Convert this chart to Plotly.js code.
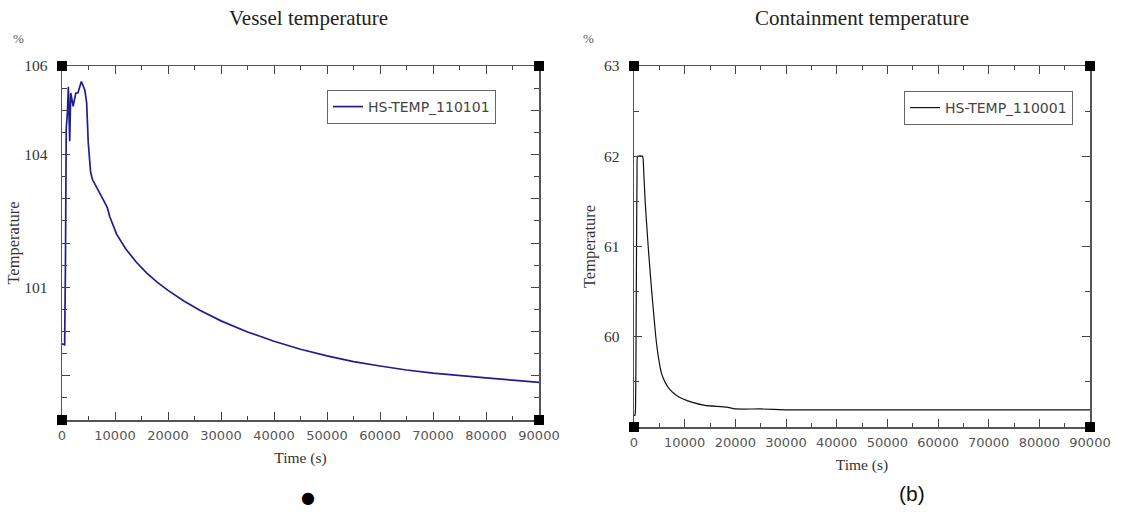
<!DOCTYPE html>
<html>
<head>
<meta charset="utf-8">
<script src="https://cdn.plot.ly/plotly-3.0.1.min.js"></script>
<style>html,body{margin:0;padding:0;background:#fff;}#chart{width:1146px;height:512px;}</style>
</head>
<body>
<div id="chart"></div>
<script>
// Vessel temperature (HS-TEMP_110101)
const vesselTime = [0, 500, 650, 800, 1000, 1200, 1450, 1650, 2100, 2600, 3000, 3650, 4300, 4650, 4950, 5400, 5730, 6350, 7000, 7900, 8550, 9000, 10300, 12000, 14000, 16000, 18000, 20000, 23000, 26000, 30000, 35000, 40000, 45000, 50000, 55000, 60000, 65000, 70000, 75000, 80000, 85000, 90000];
const vesselTemp = [99.72, 99.7, 101.5, 104.6, 104.9, 105.53, 104.3, 105.39, 105.09, 105.39, 105.39, 105.65, 105.46, 105.17, 104.27, 103.6, 103.44, 103.29, 103.14, 102.95, 102.8, 102.6, 102.2, 101.87, 101.57, 101.32, 101.11, 100.93, 100.69, 100.48, 100.24, 99.99, 99.78, 99.6, 99.45, 99.32, 99.22, 99.13, 99.06, 99.0, 98.95, 98.9, 98.85];

// Containment temperature (HS-TEMP_110001)
const contTime = [0, 200, 300, 400, 500, 600, 700, 1700, 1900, 2200, 2800, 3500, 4300, 4800, 5400, 6100, 7000, 8400, 9700, 11700, 14000, 18300, 20000, 25000, 30000, 40000, 60000, 90000];
const contTemp = [59.13, 59.13, 59.2, 59.9, 61.0, 61.8, 62.0, 62.0, 61.85, 61.5, 61.0, 60.5, 60.0, 59.78, 59.6, 59.5, 59.42, 59.35, 59.31, 59.27, 59.24, 59.22, 59.2, 59.2, 59.19, 59.19, 59.19, 59.19];

const xTickVals = [0, 10000, 20000, 30000, 40000, 50000, 60000, 70000, 80000, 90000];
const xTickText = ['0', '10000', '20000', '30000', '40000', '50000', '60000', '70000', '80000', '90000'];
const vesselYTickVals = [98, 99, 100, 101, 102, 103, 104, 105, 106];
const vesselYTickText = ['', '', '', '101', '', '', '104', '', '106'];
const contYTickVals = [59, 60, 61, 62, 63];
const contYTickText = ['', '60', '61', '62', '63'];

const serif = 'Liberation Serif, DejaVu Serif, serif';
const sans = 'DejaVu Sans, Verdana, sans-serif';
const axisCol = '#555';

function xAxis(domain, anchor) {
  return {
    domain: domain, anchor: anchor, range: [0, 90000],
    tickmode: 'array', tickvals: xTickVals, ticktext: xTickText,
    ticks: 'inside', ticklen: 8, tickwidth: 1, tickcolor: '#444',
    minor: {dtick: 5000, ticks: 'inside', ticklen: 4, tickcolor: '#444', tickwidth: 1},
    showline: true, linecolor: axisCol, linewidth: 1.5, mirror: 'ticks',
    showgrid: false, zeroline: false,
    ticklabelstandoff: 3,
    tickfont: {family: sans, size: 13, color: '#555'},
    title: {text: 'Time (s)', font: {family: serif, size: 15.5, color: '#333'}, standoff: 10},
    automargin: false
  };
}
function yAxis(domain, anchor, range, tv, tt, standoff) {
  return {
    domain: domain, anchor: anchor, range: range,
    tickmode: 'array', tickvals: tv, ticktext: tt,
    ticks: 'inside', ticklen: 8, tickwidth: 1, tickcolor: '#444',
    minor: {dtick: 0.5, ticks: 'inside', ticklen: 5, tickcolor: '#444', tickwidth: 1},
    showline: true, linecolor: axisCol, linewidth: 1.5, mirror: 'ticks',
    showgrid: false, zeroline: false,
    ticklabelstandoff: 10,
    tickfont: {family: serif, size: 15.5, color: '#333'},
    title: {text: 'Temperature', font: {family: serif, size: 16.5, color: '#333'}, standoff: standoff},
    automargin: false
  };
}

const traces = [
  {x: vesselTime, y: vesselTemp, type: 'scatter', mode: 'lines', name: 'HS-TEMP_110101',
   line: {color: '#1f1f8c', width: 1.7}, xaxis: 'x', yaxis: 'y', legend: 'legend'},
  {x: contTime, y: contTemp, type: 'scatter', mode: 'lines', name: 'HS-TEMP_110001',
   line: {color: '#111', width: 1.2, shape: 'spline', smoothing: 0.4}, xaxis: 'x2', yaxis: 'y2', legend: 'legend2'}
];

function corners(xr, yr) {
  const out = [];
  [0, 1].forEach(ax => [0, 1].forEach(ay => {
    out.push({type: 'rect', xref: xr + ' domain', yref: yr + ' domain',
      xsizemode: 'pixel', ysizemode: 'pixel', xanchor: ax, yanchor: ay,
      x0: -5, x1: 5, y0: -5, y1: 5, fillcolor: '#000', line: {width: 0}});
  }));
  return out;
}

const legendStyle = {
  bgcolor: '#fff', bordercolor: '#666', borderwidth: 1,
  font: {family: sans, size: 14, color: '#444'},
  xanchor: 'left', yanchor: 'top', itemwidth: 30, tracegroupgap: 0
};

const layout = {
  width: 1146, height: 512,
  margin: {l: 0, r: 0, t: 0, b: 0},
  paper_bgcolor: '#fff', plot_bgcolor: '#fff',
  showlegend: true,
  xaxis: xAxis([62/1146, 539/1146], 'y'),
  yaxis: yAxis([1 - 420/512, 1 - 66/512], 'x', [98, 106], vesselYTickVals, vesselYTickText, 0),
  xaxis2: xAxis([634/1146, 1090/1146], 'y2'),
  yaxis2: yAxis([1 - 427/512, 1 - 66/512], 'x2', [59, 63], contYTickVals, contYTickText, 4),
  legend: Object.assign({x: 327/1146, y: 1 - 90/512}, legendStyle),
  legend2: Object.assign({x: 904/1146, y: 1 - 91/512}, legendStyle),
  shapes: corners('x', 'y').concat(corners('x2', 'y2')),
  annotations: [
    {text: 'Vessel temperature', x: 308/1146, y: 1 - 18/512, xref: 'paper', yref: 'paper',
     showarrow: false, xanchor: 'center', yanchor: 'middle', font: {family: serif, size: 21, color: '#222'}},
    {text: 'Containment temperature', x: 862/1146, y: 1 - 18/512, xref: 'paper', yref: 'paper',
     showarrow: false, xanchor: 'center', yanchor: 'middle', font: {family: serif, size: 21, color: '#222'}},
    {text: '%', x: 18/1146, y: 1 - 38/512, xref: 'paper', yref: 'paper',
     showarrow: false, xanchor: 'center', yanchor: 'middle', font: {family: serif, size: 13, color: '#555'}},
    {text: '%', x: 588/1146, y: 1 - 38/512, xref: 'paper', yref: 'paper',
     showarrow: false, xanchor: 'center', yanchor: 'middle', font: {family: serif, size: 13, color: '#555'}},
    {text: '●', x: 308/1146, y: 1 - 497/512, xref: 'paper', yref: 'paper',
     showarrow: false, xanchor: 'center', yanchor: 'middle', font: {family: sans, size: 16, color: '#000'}},
    {text: '(b)', x: 912/1146, y: 1 - 493/512, xref: 'paper', yref: 'paper',
     showarrow: false, xanchor: 'center', yanchor: 'middle', font: {family: 'Liberation Sans, Arial, sans-serif', size: 21, color: '#111'}}
  ]
};

Plotly.newPlot('chart', traces, layout, {staticPlot: true, displayModeBar: false});
</script>
</body>
</html>
